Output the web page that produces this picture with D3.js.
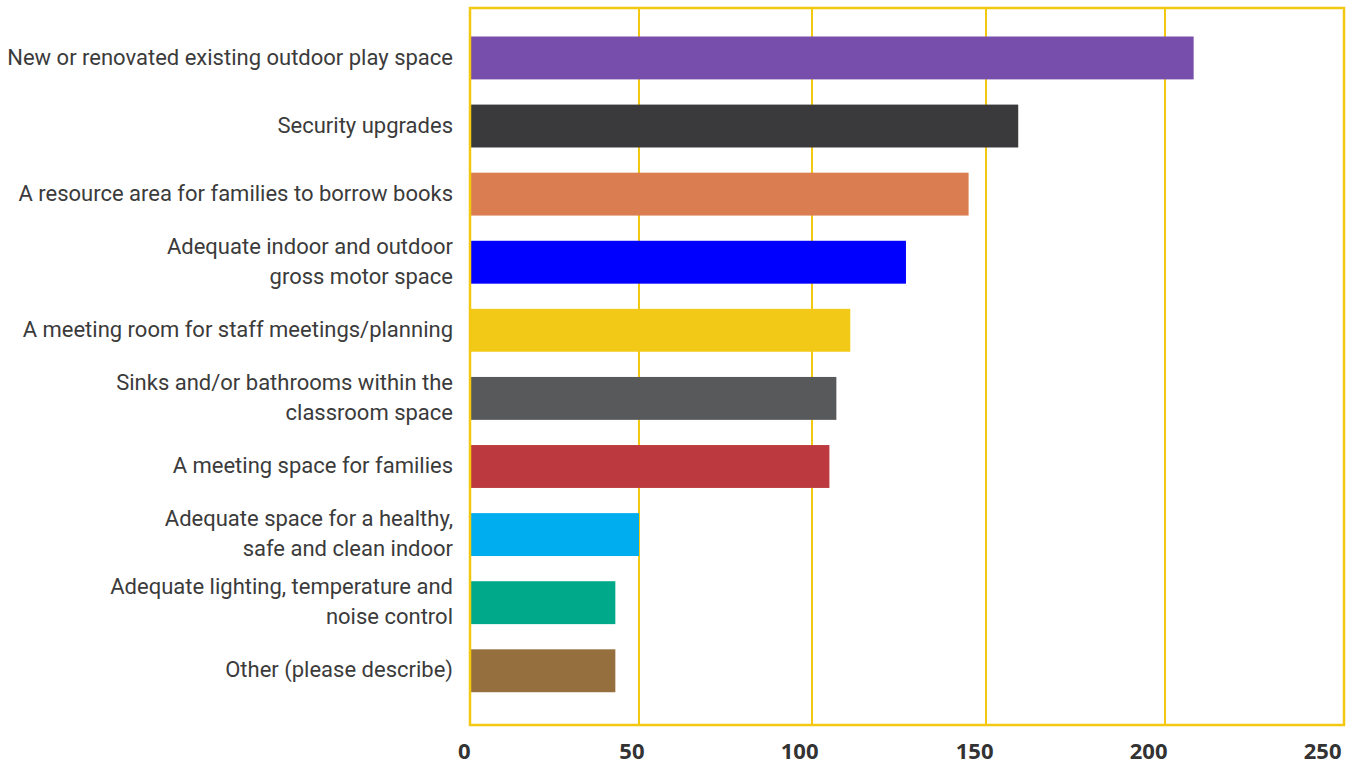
<!DOCTYPE html>
<html>
<head>
<meta charset="utf-8">
<script src="https://cdn.jsdelivr.net/npm/d3@7"></script>
<style>
  html, body { margin: 0; padding: 0; background: #fff; }
  svg { display: block; }
</style>
</head>
<body>
<svg id="chart" width="1350" height="766"></svg>
<script>
// ---- data ----
const categories = [
  ["New or renovated existing outdoor play space"],
  ["Security upgrades"],
  ["A resource area for families to borrow books"],
  ["Adequate indoor and outdoor", "gross motor space"],
  ["A meeting room for staff meetings/planning"],
  ["Sinks and/or bathrooms within the", "classroom space"],
  ["A meeting space for families"],
  ["Adequate space for a healthy,", "safe and clean indoor"],
  ["Adequate lighting, temperature and", "noise control"],
  ["Other (please describe)"]
];
const values = [208, 159, 145, 127, 111, 107, 105, 50, 43, 43];
const barColors = ["#774EAB", "#3A3A3C", "#DA7E52", "#0000FF", "#F2C916",
                   "#58595B", "#BC3A3F", "#00AEEF", "#00A98A", "#966F3F"];
const tickValues = [0, 50, 100, 150, 200, 250];

// ---- layout ----
const svg = d3.select("#chart");
const plotL = 470, plotR = 1344, plotT = 8, plotB = 725;
const frameColor = "#F2C811";

const x = d3.scaleLinear()
  .domain(tickValues)
  .range([470, 639, 812, 986, 1165, 1344]);

const y = d3.scaleBand()
  .domain(d3.range(categories.length))
  .range([plotT, plotB])
  .paddingInner(0.37)
  .paddingOuter(0.45)
  .align(0.465);

// gridlines
svg.append("g").selectAll("line")
  .data(tickValues.slice(1, -1))
  .join("line")
  .attr("x1", d => x(d)).attr("x2", d => x(d))
  .attr("y1", plotT).attr("y2", plotB)
  .attr("stroke", frameColor)
  .attr("stroke-width", 2);

// bars
svg.append("g").selectAll("rect")
  .data(values)
  .join("rect")
  .attr("x", x(0))
  .attr("y", (d, i) => y(i))
  .attr("width", d => x(d) - x(0))
  .attr("height", y.bandwidth())
  .attr("fill", (d, i) => barColors[i]);

// frame
svg.append("rect")
  .attr("x", plotL).attr("y", plotT)
  .attr("width", plotR - plotL).attr("height", plotB - plotT)
  .attr("fill", "none")
  .attr("stroke", frameColor)
  .attr("stroke-width", 2.5);

// category labels
const lineH = 30;
const labels = svg.append("g")
  .attr("font-family", "Roboto, 'Noto Sans', sans-serif")
  .attr("font-size", 22)
  .attr("fill", "#3B3B3B")
  .attr("text-anchor", "end");
categories.forEach((lines, i) => {
  const cy = y(i) + y.bandwidth() / 2 - 1;
  const t = labels.append("text")
    .attr("x", 453)
    .attr("y", cy - (lines.length - 1) * lineH / 2);
  lines.forEach((ln, j) => {
    t.append("tspan").attr("x", 453).attr("dy", j === 0 ? "0.35em" : lineH).text(ln);
  });
});

// x-axis tick labels
const xAxis = d3.axisBottom(x).tickValues(tickValues).tickSize(0).tickPadding(0);
const gx = svg.append("g").attr("transform", "translate(0, 759)").call(xAxis);
gx.select(".domain").remove();
gx.selectAll("text")
  .attr("font-family", "'Open Sans', Roboto, sans-serif")
  .attr("font-weight", "bold")
  .attr("font-size", 22)
  .attr("fill", "#333333")
  .attr("text-anchor", "end")
  .attr("x", (d, i) => [0, 5, 6, 7, 2, -3][i])
  .attr("dy", "0");
</script>
</body>
</html>
